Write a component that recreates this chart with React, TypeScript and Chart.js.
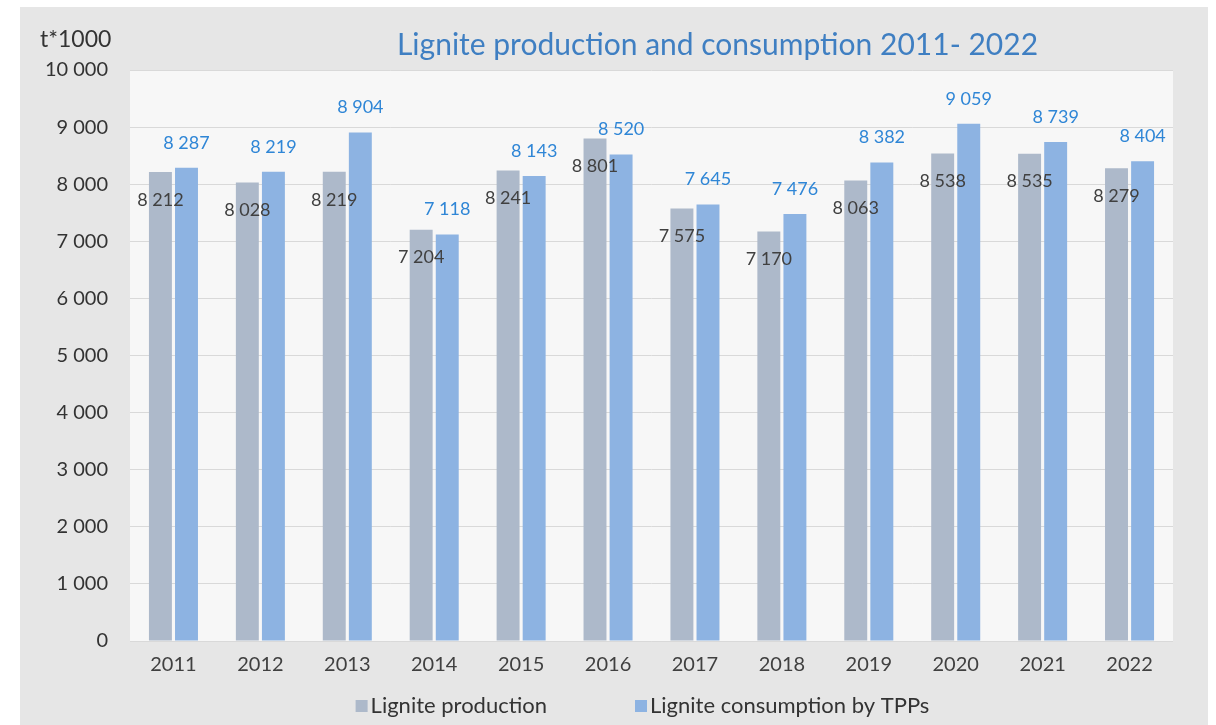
import React, { useEffect, useRef } from "react";
import { Chart, registerables } from "chart.js";

Chart.register(...registerables);

const categories = ["2011", "2012", "2013", "2014", "2015", "2016", "2017", "2018", "2019", "2020", "2021", "2022"];
const production = [8212, 8028, 8219, 7204, 8241, 8801, 7575, 7170, 8063, 8538, 8535, 8279];
const consumption = [8287, 8219, 8904, 7118, 8143, 8520, 7645, 7476, 8382, 9059, 8739, 8404];
const seriesNames = ["Lignite production", "Lignite consumption by TPPs"];
const titleText = "Lignite production and consumption 2011- 2022";
const unitText = "t*1000";

const FONT = "Lato, 'Open Sans', sans-serif";
const fmt = (v: number) => {
  const s = Math.round(v).toString();
  return s.replace(/\B(?=(\d{3})+(?!\d))/g, " ");
};

const decorPlugin = {
  id: "decor",
  beforeDraw(chart: any) {
    const { ctx, chartArea, width, height } = chart;
    ctx.save();
    ctx.fillStyle = "#ffffff";
    ctx.fillRect(0, 0, width, height);
    ctx.fillStyle = "#e6e6e6";
    ctx.fillRect(20, 7, width - 28, height - 7);
    ctx.fillStyle = "#f7f7f7";
    ctx.fillRect(chartArea.left, chartArea.top, chartArea.right - chartArea.left, chartArea.bottom - chartArea.top);
    ctx.restore();
  },
  afterDraw(chart: any) {
    const { ctx, chartArea } = chart;
    ctx.save();
    // title
    ctx.fillStyle = "#3f7fc2";
    ctx.font = `30px ${FONT}`;
    ctx.textAlign = "center";
    ctx.textBaseline = "middle";
    ctx.fillText(titleText, (chartArea.left + chartArea.right) / 2 + 66, 45);
    // unit
    ctx.fillStyle = "#333333";
    ctx.font = `23px ${FONT}`;
    ctx.textAlign = "left";
    ctx.fillText(unitText, 40, 40);
    // data labels
    const cols = ["#404040", "#2f86d6"];
    chart.data.datasets.forEach((ds: any, di: number) => {
      const meta = chart.getDatasetMeta(di);
      meta.data.forEach((bar: any, i: number) => {
        ctx.fillStyle = cols[di];
        ctx.font = `18px ${FONT}`;
        ctx.textAlign = "center";
        ctx.textBaseline = "middle";
        const y = di === 0 ? bar.y + 28 : bar.y - 25;
        ctx.fillText(fmt(ds.data[i]), bar.x, y);
      });
    });
    // legend
    const cx = (chartArea.left + chartArea.right) / 2 - 9;
    ctx.font = `22px ${FONT}`;
    ctx.textBaseline = "middle";
    ctx.textAlign = "left";
    const gap = 88;
    const box = 12;
    const widths = chart.data.datasets.map((ds: any) => box + 3 + ctx.measureText(ds.label).width);
    const total = widths[0] + gap + widths[1];
    let x = cx - total / 2;
    const ly = 706;
    chart.data.datasets.forEach((ds: any, di: number) => {
      ctx.fillStyle = ds.backgroundColor;
      ctx.fillRect(x, ly - box / 2, box, box);
      ctx.fillStyle = "#333333";
      ctx.fillText(ds.label, x + box + 3, ly);
      x += widths[di] + gap;
    });
    ctx.restore();
  },
};

export default function App() {
  const ref = useRef<HTMLCanvasElement>(null);
  useEffect(() => {
    if (!ref.current) return;
    const chart = new Chart(ref.current, {
      type: "bar",
      data: {
        labels: categories,
        datasets: [
          { label: seriesNames[0], data: production, backgroundColor: "#adb9ca", categoryPercentage: 0.6, barPercentage: 0.88 },
          { label: seriesNames[1], data: consumption, backgroundColor: "#8db3e2", categoryPercentage: 0.6, barPercentage: 0.88 },
        ],
      },
      options: {
        animation: false,
        responsive: false,
        maintainAspectRatio: false,
        layout: { padding: { left: 30, right: 43, top: 70, bottom: 44 } },
        plugins: { legend: { display: false }, title: { display: false }, tooltip: { enabled: false } },
        scales: {
          x: {
            grid: { display: false },
            border: { display: false },
            ticks: { color: "#404040", font: { family: FONT, size: 20 }, padding: 4 },
            afterFit: (s: any) => { s.height = 40; },
          },
          y: {
            min: 0,
            max: 10000,
            grid: { color: "#d9d9d9", drawTicks: false },
            border: { display: false },
            ticks: {
              stepSize: 1000,
              color: "#333333",
              font: { family: FONT, size: 20 },
              padding: 22,
              callback: (v: any) => fmt(Number(v)),
            },
            afterFit: (s: any) => { s.width = 100; },
          },
        },
      },
      plugins: [decorPlugin],
    });
    return () => chart.destroy();
  }, []);
  return (
    <div style={{ position: "fixed", left: 0, top: 0, width: 1216, height: 725 }}>
      <canvas ref={ref} width={1216} height={725} style={{ display: "block" }} />
    </div>
  );
}
